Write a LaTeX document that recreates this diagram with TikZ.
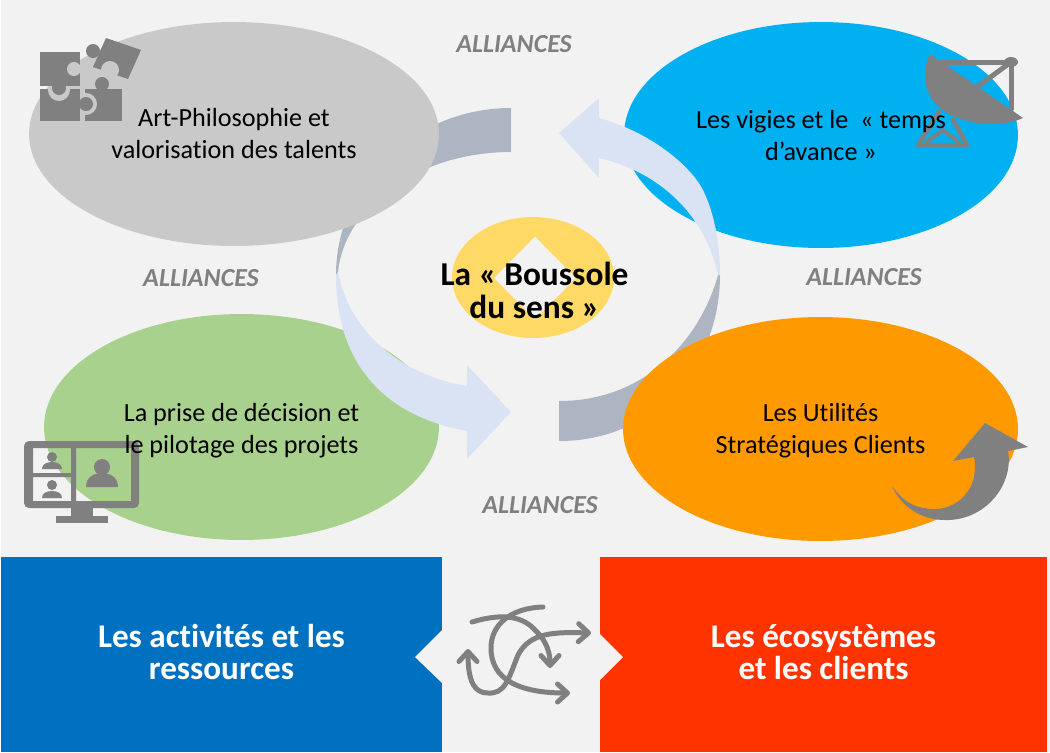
\documentclass[tikz,border=0pt]{standalone}
\usepackage{fontspec}
\setmainfont[Ligatures=NoCommon]{Carlito}
\usetikzlibrary{shapes.geometric,arrows.meta,positioning}
\definecolor{pagebg}{HTML}{F2F2F2}
\definecolor{blobgray}{HTML}{C9C9C9}
\definecolor{blobblue}{HTML}{00B0F0}
\definecolor{blobgreen}{HTML}{A9D18E}
\definecolor{bloborange}{HTML}{FF9900}
\definecolor{blobyellow}{HTML}{FFD966}
\definecolor{ringdark}{HTML}{ADB5C3}
\definecolor{ringlight}{HTML}{DAE3F3}
\definecolor{icongray}{HTML}{808080}
\definecolor{panelblue}{HTML}{0070C0}
\definecolor{panelred}{HTML}{FF3300}

\begin{document}
\begin{tikzpicture}[
    x=0.02cm, y=-0.02cm,
    blob/.style={ellipse, inner sep=0pt, outer sep=0pt},
    label/.style={align=center, font=\fontsize{14.9}{18.2}\selectfont},
    ally/.style={font=\fontsize{14.8}{17}\selectfont\bfseries\itshape, text=icongray},
    panel/.style={rectangle, inner sep=0pt, outer sep=0pt, minimum height=3.9cm},
    paneltext/.style={align=center, text=white, font=\fontsize{18.85}{18.2}\selectfont\bfseries},
    barb/.tip={Straight Barb[length=2mm,width=3.6mm,round]},
    cycleline/.style={draw=icongray, line width=0.1cm, line cap=round, line join=round}
]
    \useasboundingbox (0,0) rectangle (1050,752);
    \fill[pagebg] (1,0) rectangle (1050,752);

    % Dark halves of the ring
    \fill[ringdark] (511,108) .. controls (415,108) and (336,183) .. (336,275) -- (338,272) .. controls (345,205) and (420,152) .. (511,152) -- cycle;
    \fill[ringdark] (559,441) .. controls (655,441) and (720,365) .. (720,275) -- (718,275) .. controls (700,340) and (645,401) .. (559,401) -- cycle;

    % Four ellipses
    \node[blob, fill=blobgray, minimum width=8.2cm, minimum height=4.48cm] (arts) at (234,134) {};
    \node[blob, fill=blobblue, minimum width=7.88cm, minimum height=4.52cm] (vigies) at (821,135) {};
    \node[blob, fill=blobgreen, minimum width=7.9cm, minimum height=4.52cm] (pilot) at (241.5,427) {};
    \node[blob, fill=bloborange, minimum width=7.9cm, minimum height=4.48cm] (util) at (820.5,429) {};

    % Light halves of the ring
    \fill[ringlight] (336,275) .. controls (336,360) and (380,415) .. (467,431) -- (467,459) -- (511,412) -- (467,365) -- (467,386) .. controls (405,376) and (350,335) .. (338,272) -- cycle;
    \fill[ringlight] (720,275) .. controls (720,245) and (715,215) .. (703,190) .. controls (690,165) and (650,132) .. (599,118) -- (599,98) -- (559,133) -- (599,178) -- (599,158) .. controls (660,172) and (705,215) .. (718,275) -- cycle;

    % Compass
    \node[blob, fill=blobyellow, minimum width=3.24cm, minimum height=2.42cm] (compass) at (533,277.5) {};
    \node[diamond, fill=pagebg, inner sep=0pt, minimum width=1.64cm, minimum height=1.66cm] (needle) at (535,278) {};

    % Puzzle icon
    \fill[icongray] (85,89) rectangle (122,121);
    \fill[blobgray] (86,104) circle[radius=11];
    \fill[icongray] (40,89) rectangle (80,121);
    \fill[blobgray] (59,90) circle[radius=11];
    \fill[icongray] (40,52) rectangle (80,86);
    \fill[blobgray] (74,69) circle[radius=7];
    \fill[icongray] (59,88) circle[radius=7];
    \fill[icongray] (86,104) circle[radius=7];
    \fill[icongray] (102,84) circle[radius=7];
    \fill[icongray] (106,38) -- (141,50) -- (128,79) -- (93,67) -- cycle;
    \fill[icongray] (93,51) circle[radius=7];
    \fill[blobgray] (110,70) circle[radius=9];

    % Dish icon
    \draw[icongray, line width=0.1cm] (938,62) -- (1011,62) -- (1011,110);
    \draw[icongray, line width=0.1cm] (1011,62) -- (977,87);
    \fill[icongray] (1011,62) ellipse[x radius=7, y radius=5];
    \fill[icongray] (930,54) .. controls (920,75) and (925,100) .. (947,113) .. controls (975,128) and (1005,126) .. (1023,118) -- cycle;
    \draw[icongray, line width=0.09cm, line join=round] (940,110) -- (918,145) -- (967,145) -- (952,118);
    \draw[icongray, line width=0.08cm, line join=round] (925,143) -- (943,130) -- (960,143);

    % Monitor icon
    \fill[icongray, even odd rule, rounded corners=1mm] (24,441) rectangle (139,508) [sharp corners] (33,448) rectangle (71,473) (33,477) rectangle (71,501) (76,448) rectangle (131,501);
    \fill[icongray] (71,508) rectangle (93,516);
    \fill[icongray] (56,516) rectangle (108,523);
    \fill[icongray] (102,467) circle[radius=8];
    \fill[icongray] (86,487) .. controls (86,477) and (94,473) .. (102,473) .. controls (110,473) and (118,477) .. (118,487) -- cycle;
    \fill[icongray] (52,457) circle[radius=5];
    \fill[icongray] (42,469) .. controls (42,464) and (47,462) .. (52,462) .. controls (57,462) and (62,464) .. (62,469) -- cycle;
    \fill[icongray] (52,485) circle[radius=5];
    \fill[icongray] (42,498) .. controls (42,493) and (47,491) .. (52,491) .. controls (57,491) and (62,493) .. (62,498) -- cycle;

    % Rising arrow icon
    \fill[icongray] (892,486) .. controls (905,505) and (920,509) .. (935,509) .. controls (958,509) and (980,488) .. (974,457) -- (953,461) -- (985,423) -- (1028,447) -- (1008,451) .. controls (1014,485) and (985,521) .. (945,520) .. controls (920,520) and (900,505) .. (892,486) -- cycle;

    % Ellipse texts
    \node[label] at (234,133.5) {Art-Philosophie et\\valorisation des talents};
    \node[label] at (821,135.5) {Les vigies et le~ « temps\\d’avance »};
    \node[label] at (241.5,431) {La prise de décision et\\le pilotage des projets};
    \node[label] at (820.5,431) {Les Utilités\\Stratégiques Clients};
    \node[font=\fontsize{19}{18.8}\selectfont\bfseries, align=center] at (534.5,290) {La « Boussole\\du sens »};

    % Alliances
    \node[ally] (allyn) at (514,44) {ALLIANCES};
    \node[ally] (allyw) at (201,278) {ALLIANCES};
    \node[ally] (allye) at (864,277) {ALLIANCES};
    \node[ally] (allys) at (540,505) {ALLIANCES};

    % Bottom panels
    \node[panel, fill=panelblue, minimum width=8.82cm] (act) at (221.5,654.5) {};
    \node[panel, fill=panelred, minimum width=8.94cm] (eco) at (823.5,654.5) {};
    \node[paneltext] at (221.5,652) {Les activités et les\\ressources};
    \node[paneltext] at (823.5,652) {Les écosystèmes\\et les clients};
    \fill[pagebg] (442,630) -- (415,657) -- (442,683) -- cycle;
    \fill[pagebg] (600,634) -- (623,657) -- (600,680) -- cycle;

    % Crossing arrows between the panels
    \draw[cycleline, -{barb}] (472,622) .. controls (495,615) and (520,613) .. (535,630) .. controls (548,642) and (550,655) .. (550,668);
    \draw[cycleline, -{barb}] (543,607) .. controls (510,608) and (491,625) .. (491,648) .. controls (491,680) and (520,693) .. (570,693);
    \draw[cycleline, {barb}-{barb}] (468,649) .. controls (468,683) and (475,693) .. (488,693) .. controls (505,694) and (508,680) .. (518,655) .. controls (530,632) and (555,632) .. (591,633);
\end{tikzpicture}
\end{document}
